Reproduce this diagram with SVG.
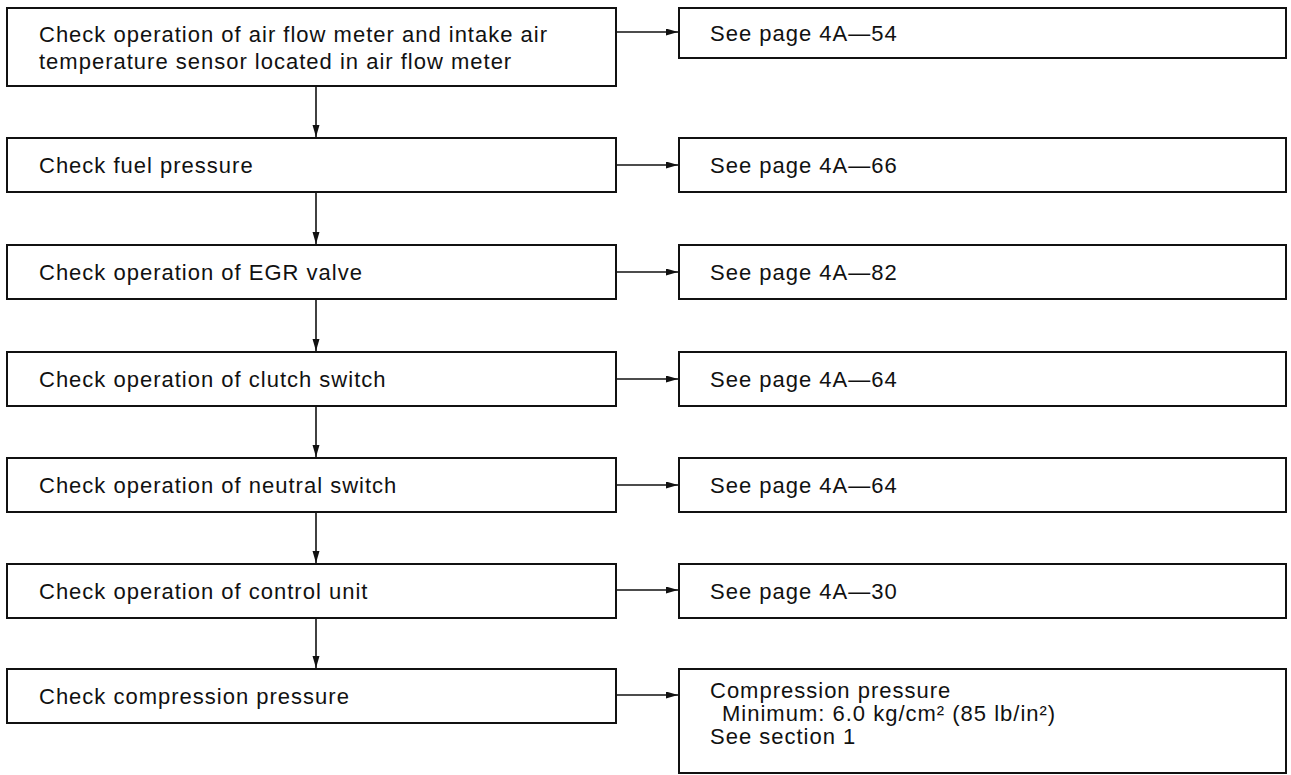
<svg xmlns="http://www.w3.org/2000/svg" width="1291" height="775" viewBox="0 0 1291 775">
<style>
.box{fill:#fff;stroke:#111;stroke-width:2}
.t{font-family:"Liberation Sans",Arial,sans-serif;font-size:22px;letter-spacing:1px;fill:#111}
.c{stroke:#111;stroke-width:1.6;fill:none}
</style>
<defs>
<marker id="ah" markerUnits="userSpaceOnUse" markerWidth="13" markerHeight="8" refX="12" refY="3.5" orient="auto">
<path d="M0,0 L12,3.5 L0,7 z" fill="#111"/>
</marker>
</defs>
<rect width="1291" height="775" fill="#fff"/>
<g id="connectors">
<line class="c" x1="316" y1="86" x2="316" y2="137" marker-end="url(#ah)"/>
<line class="c" x1="316" y1="192" x2="316" y2="244" marker-end="url(#ah)"/>
<line class="c" x1="316" y1="299" x2="316" y2="351" marker-end="url(#ah)"/>
<line class="c" x1="316" y1="406" x2="316" y2="457" marker-end="url(#ah)"/>
<line class="c" x1="316" y1="512" x2="316" y2="563" marker-end="url(#ah)"/>
<line class="c" x1="316" y1="618" x2="316" y2="668" marker-end="url(#ah)"/>
<line class="c" x1="616" y1="32" x2="678" y2="32" marker-end="url(#ah)"/>
<line class="c" x1="616" y1="165" x2="678" y2="165" marker-end="url(#ah)"/>
<line class="c" x1="616" y1="272" x2="678" y2="272" marker-end="url(#ah)"/>
<line class="c" x1="616" y1="379" x2="678" y2="379" marker-end="url(#ah)"/>
<line class="c" x1="616" y1="485" x2="678" y2="485" marker-end="url(#ah)"/>
<line class="c" x1="616" y1="590" x2="678" y2="590" marker-end="url(#ah)"/>
<line class="c" x1="616" y1="695" x2="678" y2="695" marker-end="url(#ah)"/>
</g>
<g id="n1"><rect class="box" x="7" y="8" width="609" height="78"/>
<text class="t" x="39" y="42">Check operation of air flow meter and intake air</text>
<text class="t" x="39" y="69">temperature sensor located in air flow meter</text></g>
<g id="r1"><rect class="box" x="679" y="8" width="607" height="50"/>
<text class="t" x="710" y="41">See page 4A—54</text></g>
<g id="n2"><rect class="box" x="7" y="138" width="609" height="54"/>
<text class="t" x="39" y="173">Check fuel pressure</text></g>
<g id="r2"><rect class="box" x="679" y="138" width="607" height="54"/>
<text class="t" x="710" y="173">See page 4A—66</text></g>
<g id="n3"><rect class="box" x="7" y="245" width="609" height="54"/>
<text class="t" x="39" y="280">Check operation of EGR valve</text></g>
<g id="r3"><rect class="box" x="679" y="245" width="607" height="54"/>
<text class="t" x="710" y="280">See page 4A—82</text></g>
<g id="n4"><rect class="box" x="7" y="352" width="609" height="54"/>
<text class="t" x="39" y="387">Check operation of clutch switch</text></g>
<g id="r4"><rect class="box" x="679" y="352" width="607" height="54"/>
<text class="t" x="710" y="387">See page 4A—64</text></g>
<g id="n5"><rect class="box" x="7" y="458" width="609" height="54"/>
<text class="t" x="39" y="493">Check operation of neutral switch</text></g>
<g id="r5"><rect class="box" x="679" y="458" width="607" height="54"/>
<text class="t" x="710" y="493">See page 4A—64</text></g>
<g id="n6"><rect class="box" x="7" y="564" width="609" height="54"/>
<text class="t" x="39" y="599">Check operation of control unit</text></g>
<g id="r6"><rect class="box" x="679" y="564" width="607" height="54"/>
<text class="t" x="710" y="599">See page 4A—30</text></g>
<g id="n7"><rect class="box" x="7" y="669" width="609" height="54"/>
<text class="t" x="39" y="704">Check compression pressure</text></g>
<g id="r7"><rect class="box" x="679" y="669" width="607" height="104"/>
<text class="t" x="710" y="698">Compression pressure</text>
<text class="t" x="722" y="721">Minimum: 6.0 kg/cm² (85 lb/in²)</text>
<text class="t" x="710" y="744">See section 1</text></g>
</svg>
